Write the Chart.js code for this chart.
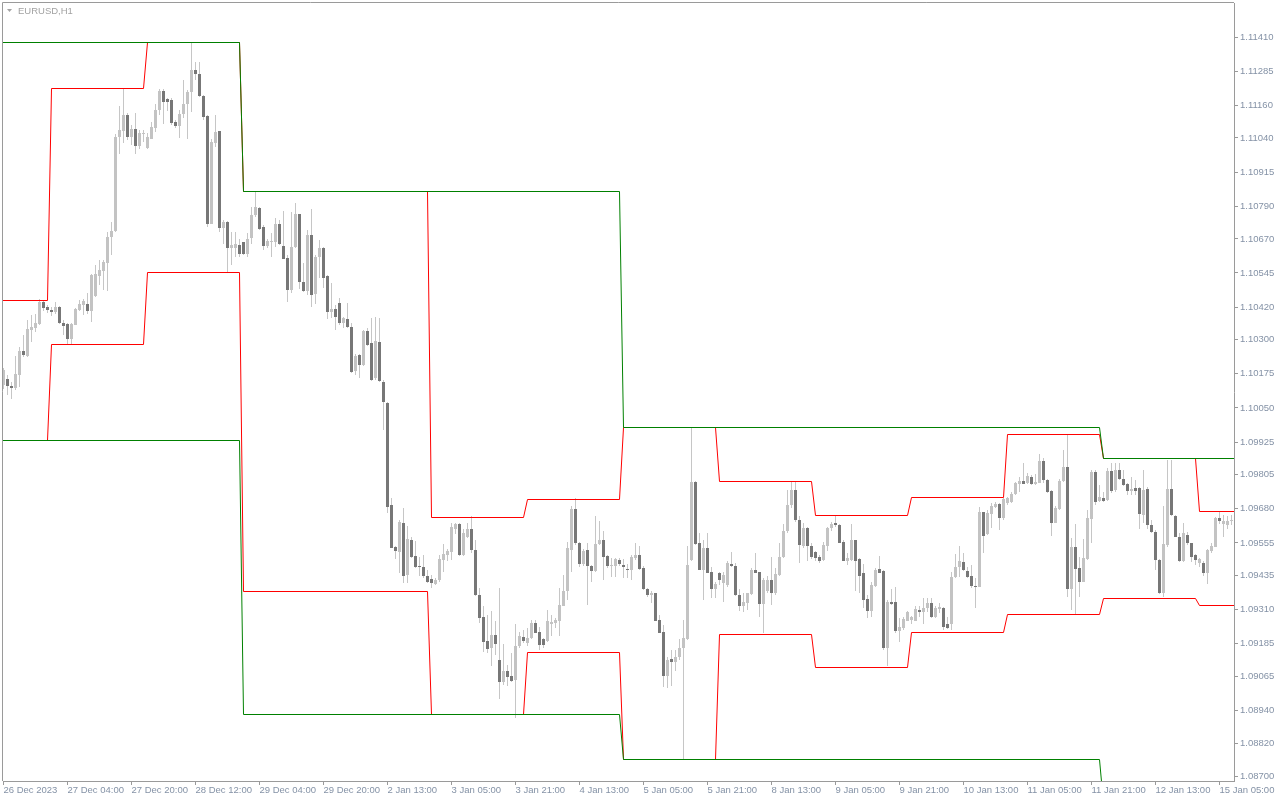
<!DOCTYPE html>
<html>
<head>
<meta charset="utf-8">
<script src="https://cdn.jsdelivr.net/npm/chart.js@4.4.1/dist/chart.umd.min.js"></script>
<style>
  html, body { margin: 0; padding: 0; background: #fff; }
  #wrap { width: 1280px; height: 800px; }
</style>
</head>
<body>
<div id="wrap"><canvas id="chart" width="1280" height="800"></canvas></div>
<script>
// EURUSD H1 candles, bar 0 = 26 Dec 2023
const opens = [
  1.10134,1.10156,1.10131,1.10125,1.10170,1.10258,1.10241,1.10337,1.10344,1.10358,
  1.10439,1.10420,1.10410,1.10403,1.10420,1.10361,1.10358,1.10302,1.10356,1.10410,
  1.10427,1.10432,1.10405,1.10461,1.10535,1.10552,1.10582,1.10678,1.10698,1.11043,
  1.11066,1.11124,1.11044,1.11072,1.11011,1.11055,1.11004,1.11038,1.11075,1.11141,
  1.11212,1.11182,1.11179,1.11097,1.11085,1.11129,1.11163,1.11207,1.11289,1.11273,
  1.11195,1.11120,1.10725,1.11021,1.11064,1.10711,1.10733,1.10635,1.10637,1.10649,
  1.10657,1.10616,1.10674,1.10757,1.10784,1.10714,1.10645,1.10657,1.10659,1.10726,
  1.10645,1.10601,1.10482,1.10641,1.10761,1.10513,1.10480,1.10684,1.10467,1.10602,
  1.10638,1.10535,1.10403,1.10412,1.10436,1.10363,1.10375,1.10348,1.10186,1.10244,
  1.10208,1.10332,1.10287,1.10159,1.10291,1.10147,1.10067,1.09694,1.09539,1.09523,
  1.09629,1.09438,1.09565,1.09507,1.09471,1.09466,1.09434,1.09422,1.09405,1.09419,
  1.09493,1.09511,1.09523,1.09605,1.09626,1.09511,1.09578,1.09605,1.09529,1.09364,
  1.09284,1.09196,1.09169,1.09218,1.09126,1.09046,1.09086,1.09067,1.09053,1.09178,
  1.09209,1.09187,1.09208,1.09263,1.09230,1.09202,1.09197,1.09258,1.09263,1.09267,
  1.09325,1.09377,1.09529,1.09678,1.09556,1.09477,1.09528,1.09471,1.09452,1.09550,
  1.09565,1.09507,1.09471,1.09472,1.09493,1.09473,1.09461,1.09456,1.09500,1.09511,
  1.09462,1.09386,1.09364,1.09370,1.09273,1.09229,1.09067,1.09131,1.09119,1.09136,
  1.09169,1.09203,1.09493,1.09780,1.09556,1.09454,1.09538,1.09450,1.09386,1.09444,
  1.09407,1.09401,1.09478,1.09472,1.09364,1.09324,1.09336,1.09368,1.09456,1.09449,
  1.09330,1.09377,1.09419,1.09370,1.09438,1.09502,1.09597,1.09694,1.09749,1.09639,
  1.09544,1.09608,1.09542,1.09520,1.09505,1.09493,1.09545,1.09608,1.09627,1.09621,
  1.09557,1.09490,1.09493,1.09564,1.09495,1.09444,1.09350,1.09306,1.09397,1.09460,
  1.09452,1.09168,1.09339,1.09339,1.09233,1.09242,1.09270,1.09273,1.09270,1.09309,
  1.09300,1.09315,1.09336,1.09282,1.09314,1.09316,1.09256,1.09256,1.09429,1.09465,
  1.09486,1.09453,1.09435,1.09397,1.09395,1.09667,1.09588,1.09661,1.09688,1.09698,
  1.09645,1.09700,1.09706,1.09734,1.09771,1.09783,1.09773,1.09798,1.09771,1.09776,
  1.09857,1.09786,1.09745,1.09629,1.09679,1.09783,1.09834,1.09387,1.09539,1.09462,
  1.09413,1.09495,1.09641,1.09816,1.09709,1.09721,1.09712,1.09820,1.09749,1.09822,
  1.09789,1.09770,1.09747,1.09755,1.09755,1.09657,1.09751,1.09621,1.09596,1.09492,
  1.09370,1.09547,1.09751,1.09654,1.09578,1.09489,1.09584,1.09553,1.09509,1.09480,
  1.09483,1.09446,1.09527,1.09541,1.09645,1.09623,1.09621,1.09634
];
const highs = [
  1.10195,1.10170,1.10146,1.10240,1.10274,1.10317,1.10372,1.10390,1.10393,1.10451,
  1.10445,1.10429,1.10421,1.10439,1.10423,1.10372,1.10363,1.10363,1.10417,1.10445,
  1.10451,1.10470,1.10542,1.10574,1.10591,1.10591,1.10696,1.10733,1.11053,1.11158,
  1.11219,1.11133,1.11089,1.11133,1.11069,1.11069,1.11060,1.11097,1.11163,1.11219,
  1.11221,1.11187,1.11185,1.11105,1.11142,1.11252,1.11215,1.11390,1.11319,1.11319,
  1.11197,1.11124,1.11036,1.11126,1.11067,1.10739,1.10735,1.10696,1.10696,1.10669,
  1.10659,1.10690,1.10788,1.10843,1.10788,1.10720,1.10669,1.10690,1.10747,1.10739,
  1.10772,1.10610,1.10769,1.10800,1.10763,1.10580,1.10703,1.10780,1.10611,1.10666,
  1.10642,1.10538,1.10507,1.10428,1.10452,1.10385,1.10434,1.10360,1.10247,1.10247,
  1.10336,1.10345,1.10379,1.10385,1.10379,1.10153,1.10073,1.09719,1.09545,1.09639,
  1.09682,1.09617,1.09578,1.09562,1.09505,1.09511,1.09456,1.09438,1.09428,1.09511,
  1.09550,1.09533,1.09627,1.09627,1.09629,1.09605,1.09627,1.09652,1.09566,1.09391,
  1.09325,1.09289,1.09306,1.09269,1.09389,1.09183,1.09108,1.09150,1.09257,1.09227,
  1.09236,1.09242,1.09273,1.09273,1.09245,1.09208,1.09309,1.09289,1.09279,1.09389,
  1.09438,1.09560,1.09692,1.09719,1.09560,1.09533,1.09554,1.09474,1.09652,1.09636,
  1.09599,1.09511,1.09499,1.09501,1.09499,1.09495,1.09478,1.09511,1.09554,1.09542,
  1.09472,1.09389,1.09377,1.09373,1.09291,1.09254,1.09136,1.09163,1.09163,1.09202,
  1.09273,1.09544,1.09979,1.09782,1.09590,1.09566,1.09593,1.09468,1.09413,1.09447,
  1.09450,1.09489,1.09523,1.09480,1.09385,1.09370,1.09373,1.09462,1.09517,1.09450,
  1.09425,1.09432,1.09505,1.09462,1.09554,1.09625,1.09749,1.09780,1.09780,1.09652,
  1.09627,1.09612,1.09554,1.09526,1.09511,1.09560,1.09615,1.09633,1.09654,1.09625,
  1.09566,1.09517,1.09625,1.09566,1.09501,1.09478,1.09364,1.09410,1.09462,1.09507,
  1.09454,1.09346,1.09385,1.09395,1.09279,1.09285,1.09306,1.09287,1.09322,1.09322,
  1.09352,1.09352,1.09352,1.09324,1.09336,1.09319,1.09285,1.09450,1.09514,1.09544,
  1.09517,1.09468,1.09474,1.09425,1.09685,1.09670,1.09676,1.09700,1.09706,1.09703,
  1.09721,1.09725,1.09743,1.09780,1.09798,1.09847,1.09813,1.09804,1.09808,1.09881,
  1.09865,1.09789,1.09749,1.09690,1.09788,1.09896,1.09954,1.09572,1.09624,1.09505,
  1.09568,1.09676,1.09822,1.09822,1.09767,1.09743,1.09828,1.09847,1.09847,1.09847,
  1.09822,1.09773,1.09798,1.09786,1.09761,1.09822,1.09759,1.09639,1.09602,1.09495,
  1.09690,1.09859,1.09859,1.09657,1.09590,1.09627,1.09596,1.09556,1.09514,1.09501,
  1.09489,1.09531,1.09553,1.09651,1.09670,1.09657,1.09654,1.09657
];
const lows = [
  1.10119,1.10099,1.10082,1.10115,1.10128,1.10238,1.10238,1.10293,1.10329,1.10356,
  1.10405,1.10399,1.10388,1.10396,1.10358,1.10317,1.10286,1.10283,1.10354,1.10405,
  1.10390,1.10393,1.10366,1.10458,1.10500,1.10482,1.10478,1.10610,1.10696,1.10983,
  1.11020,1.11032,1.11014,1.10983,1.10999,1.11026,1.10999,1.11036,1.11062,1.11124,
  1.11093,1.11138,1.11089,1.11077,1.11041,1.11114,1.11036,1.11136,1.11252,1.11191,
  1.11105,1.10714,1.10723,1.11008,1.10696,1.10653,1.10549,1.10574,1.10604,1.10604,
  1.10610,1.10604,1.10653,1.10751,1.10702,1.10629,1.10635,1.10604,1.10641,1.10649,
  1.10596,1.10439,1.10473,1.10635,1.10488,1.10476,1.10464,1.10422,1.10430,1.10525,
  1.10489,1.10376,1.10381,1.10336,1.10354,1.10342,1.10345,1.10177,1.10171,1.10159,
  1.10205,1.10279,1.10149,1.10153,1.10147,1.09969,1.09664,1.09535,1.09496,1.09444,
  1.09407,1.09407,1.09499,1.09462,1.09434,1.09425,1.09407,1.09391,1.09401,1.09411,
  1.09450,1.09487,1.09493,1.09589,1.09508,1.09508,1.09572,1.09517,1.09362,1.09260,
  1.09156,1.09150,1.09105,1.09144,1.08983,1.09034,1.09032,1.09046,1.08914,1.09169,
  1.09187,1.09178,1.09202,1.09224,1.09163,1.09169,1.09193,1.09212,1.09242,1.09212,
  1.09322,1.09346,1.09450,1.09548,1.09468,1.09472,1.09328,1.09413,1.09450,1.09548,
  1.09419,1.09462,1.09431,1.09431,1.09472,1.09425,1.09425,1.09419,1.09493,1.09456,
  1.09383,1.09356,1.09336,1.09267,1.09224,1.09025,1.09022,1.09031,1.09087,1.09124,
  1.08762,1.09199,1.09490,1.09548,1.09454,1.09346,1.09444,1.09352,1.09352,1.09401,
  1.09340,1.09395,1.09468,1.09361,1.09307,1.09300,1.09309,1.09364,1.09444,1.09285,
  1.09224,1.09370,1.09328,1.09364,1.09434,1.09499,1.09593,1.09682,1.09633,1.09483,
  1.09535,1.09487,1.09495,1.09487,1.09483,1.09487,1.09527,1.09600,1.09615,1.09554,
  1.09487,1.09474,1.09490,1.09380,1.09370,1.09315,1.09278,1.09282,1.09395,1.09444,
  1.09163,1.09102,1.09328,1.09224,1.09193,1.09236,1.09267,1.09258,1.09267,1.09285,
  1.09258,1.09303,1.09278,1.09278,1.09297,1.09236,1.09238,1.09236,1.09425,1.09431,
  1.09453,1.09425,1.09388,1.09315,1.09392,1.09517,1.09584,1.09608,1.09682,1.09602,
  1.09639,1.09694,1.09703,1.09731,1.09743,1.09770,1.09770,1.09767,1.09767,1.09773,
  1.09773,1.09739,1.09580,1.09627,1.09676,1.09780,1.09358,1.09309,1.09294,1.09358,
  1.09410,1.09492,1.09553,1.09694,1.09706,1.09706,1.09710,1.09737,1.09743,1.09786,
  1.09764,1.09731,1.09731,1.09731,1.09605,1.09627,1.09605,1.09590,1.09456,1.09368,
  1.09358,1.09541,1.09654,1.09575,1.09484,1.09486,1.09547,1.09486,1.09474,1.09465,
  1.09434,1.09403,1.09517,1.09539,1.09624,1.09578,1.09605,1.09621
];
const closes = [
  1.10189,1.10131,1.10124,1.10173,1.10258,1.10244,1.10339,1.10346,1.10361,1.10439,
  1.10417,1.10410,1.10403,1.10420,1.10363,1.10351,1.10302,1.10358,1.10412,1.10432,
  1.10443,1.10405,1.10539,1.10542,1.10555,1.10586,1.10678,1.10698,1.11043,1.11069,
  1.11124,1.11044,1.11072,1.11009,1.11060,1.11060,1.11043,1.11080,1.11141,1.11212,
  1.11173,1.11173,1.11094,1.11085,1.11129,1.11163,1.11207,1.11289,1.11273,1.11195,
  1.11118,1.10725,1.11025,1.11061,1.10711,1.10733,1.10635,1.10649,1.10652,1.10615,
  1.10615,1.10671,1.10759,1.10786,1.10708,1.10645,1.10662,1.10662,1.10726,1.10653,
  1.10598,1.10482,1.10641,1.10761,1.10513,1.10478,1.10684,1.10464,1.10605,1.10638,
  1.10525,1.10403,1.10412,1.10382,1.10363,1.10379,1.10348,1.10183,1.10242,1.10208,
  1.10332,1.10281,1.10153,1.10297,1.10149,1.10073,1.09688,1.09538,1.09526,1.09633,
  1.09434,1.09568,1.09505,1.09468,1.09465,1.09434,1.09413,1.09407,1.09419,1.09496,
  1.09515,1.09526,1.09612,1.09623,1.09511,1.09590,1.09605,1.09529,1.09364,1.09281,
  1.09193,1.09166,1.09218,1.09183,1.09044,1.09086,1.09065,1.09050,1.09177,1.09214,
  1.09196,1.09205,1.09263,1.09226,1.09181,1.09181,1.09267,1.09264,1.09273,1.09328,
  1.09377,1.09535,1.09678,1.09554,1.09477,1.09526,1.09472,1.09452,1.09550,1.09565,
  1.09505,1.09471,1.09474,1.09495,1.09478,1.09467,1.09457,1.09505,1.09512,1.09460,
  1.09386,1.09364,1.09373,1.09270,1.09226,1.09067,1.09126,1.09119,1.09136,1.09169,
  1.09205,1.09474,1.09780,1.09551,1.09456,1.09538,1.09446,1.09386,1.09405,1.09419,
  1.09438,1.09483,1.09471,1.09364,1.09324,1.09339,1.09370,1.09454,1.09446,1.09331,
  1.09419,1.09419,1.09370,1.09441,1.09505,1.09599,1.09694,1.09749,1.09639,1.09548,
  1.09608,1.09542,1.09502,1.09501,1.09489,1.09548,1.09609,1.09625,1.09621,1.09556,
  1.09490,1.09499,1.09564,1.09490,1.09434,1.09346,1.09306,1.09401,1.09456,1.09446,
  1.09169,1.09340,1.09331,1.09233,1.09246,1.09275,1.09301,1.09285,1.09312,1.09300,
  1.09315,1.09336,1.09285,1.09318,1.09319,1.09245,1.09244,1.09431,1.09468,1.09490,
  1.09456,1.09431,1.09398,1.09395,1.09667,1.09582,1.09663,1.09690,1.09698,1.09645,
  1.09716,1.09718,1.09733,1.09773,1.09782,1.09772,1.09802,1.09771,1.09777,1.09855,
  1.09786,1.09743,1.09629,1.09684,1.09783,1.09834,1.09387,1.09539,1.09458,1.09413,
  1.09498,1.09645,1.09816,1.09706,1.09725,1.09709,1.09820,1.09747,1.09822,1.09788,
  1.09767,1.09747,1.09751,1.09747,1.09660,1.09749,1.09621,1.09594,1.09492,1.09370,
  1.09550,1.09751,1.09657,1.09578,1.09489,1.09590,1.09553,1.09505,1.09492,1.09495,
  1.09446,1.09529,1.09544,1.09645,1.09637,1.09637,1.09637,1.09638
];

// time axis: a label every 16 bars
const timeTickBars = [0,16,32,48,64,80,96,112,128,144,160,176,192,208,224,240,256,272,288,304];
const timeTickText = ['26 Dec 2023','27 Dec 04:00','27 Dec 20:00','28 Dec 12:00','29 Dec 04:00',
  '29 Dec 20:00','2 Jan 13:00','3 Jan 05:00','3 Jan 21:00','4 Jan 13:00','5 Jan 05:00',
  '5 Jan 21:00','8 Jan 13:00','9 Jan 05:00','9 Jan 21:00','10 Jan 13:00','11 Jan 05:00',
  '11 Jan 21:00','12 Jan 13:00','15 Jan 05:00'];

// price axis labels
const priceTicks = [1.11410,1.11285,1.11160,1.11040,1.10915,1.10790,1.10670,1.10545,1.10420,
  1.10300,1.10175,1.10050,1.09925,1.09805,1.09680,1.09555,1.09435,1.09310,1.09185,1.09065,
  1.08940,1.08820,1.08700];

// red levels: first bar of each day, upper and lower level
const dayStart = [0,12,36,60,107,131,155,179,203,227,251,275,299];
const dayUpper = [1.10444,1.11223,1.11391,1.10842,1.09650,1.09716,1.09980,1.09782,1.09654,1.09723,1.09954,1.09863,1.09672];
const dayLower = [1.09932,1.10281,1.10548,1.09378,1.08927,1.09155,1.08762,1.09221,1.09100,1.09225,1.09294,1.09353,1.09327];

// green levels: first bar of each period
const weekStart = [0,60,155,275];
const weekUpper = [1.11391,1.10842,1.09980,1.09863];
const weekLower = [1.09932,1.08927,1.08762,1.08600];

const X_MIN = -0.125, X_MAX = 307.625;
const Y_MIN = 1.08682, Y_MAX = 1.11535;

const bullColor = '#c3c3c3';
const bearColor = '#777777';
const wickColor = '#c6c6c6';
const axisColor = '#9a9a9a';
const labelColor = '#8492a6';
const font = { family: '"Liberation Sans", Arial, sans-serif', size: 9.5 };

// each level holds until the next start bar, then steps to the new one
function stepLine(starts, levels) {
  const pts = [];
  for (let k = 0; k < levels.length; k++) {
    const from = k === 0 ? X_MIN - 1 : starts[k];
    const to = k + 1 < starts.length ? starts[k + 1] - 1 : X_MAX + 1;
    pts.push({ x: from, y: levels[k] }, { x: to, y: levels[k] });
  }
  return pts;
}

const bodies = opens.map((o, i) => ({ x: i, y: [o, closes[i]] }));
const wicks = lows.map((l, i) => ({ x: i, y: [l, highs[i]] }));
const bodyColors = opens.map((o, i) => closes[i] >= o ? bullColor : bearColor);

const lineStyle = { type: 'line', borderWidth: 1, pointRadius: 0, fill: false, tension: 0 };

// keep 1px lines and bar edges on whole pixels, like the terminal does
const pixelSnap = {
  id: 'pixelSnap',
  afterDatasetsUpdate(chart) {
    chart.getSortedVisibleDatasetMetas().forEach(meta => {
      if (meta.type === 'line') {
        meta.data.forEach(p => { p.y = Math.floor(p.y) + 0.5; });
      } else {
        meta.data.forEach(b => {
          const top = Math.round(Math.min(b.y, b.base));
          let bottom = Math.round(Math.max(b.y, b.base));
          if (bottom - top < 1) bottom = top + 1;
          b.y = top;
          b.base = bottom;
        });
      }
    });
  }
};

const frame = {
  id: 'frame',
  afterDraw(chart) {
    const { ctx, chartArea: a } = chart;
    ctx.save();
    ctx.strokeStyle = axisColor;
    ctx.lineWidth = 1;
    ctx.beginPath();
    ctx.moveTo(a.left - 0.5, a.bottom);
    ctx.lineTo(a.left - 0.5, a.top - 0.5);
    ctx.lineTo(a.right, a.top - 0.5);
    ctx.stroke();
    // symbol caption
    ctx.fillStyle = '#a2a2a2';
    ctx.beginPath();
    ctx.moveTo(7, 9);
    ctx.lineTo(12, 9);
    ctx.lineTo(9.5, 12);
    ctx.closePath();
    ctx.fill();
    ctx.font = '9.5px "Liberation Sans", Arial, sans-serif';
    ctx.textBaseline = 'middle';
    ctx.fillText('EURUSD,H1', 18, 11);
    ctx.restore();
  }
};

new Chart(document.getElementById('chart'), {
  type: 'bar',
  data: {
    datasets: [
      { ...lineStyle, data: stepLine(weekStart, weekUpper), borderColor: '#008000', order: 0 },
      { ...lineStyle, data: stepLine(weekStart, weekLower), borderColor: '#008000', order: 0 },
      { ...lineStyle, data: stepLine(dayStart, dayUpper), borderColor: '#ff0000', order: 1 },
      { ...lineStyle, data: stepLine(dayStart, dayLower), borderColor: '#ff0000', order: 1 },
      { data: bodies, backgroundColor: bodyColors, barThickness: 3, grouped: false,
        minBarLength: 1, inflateAmount: 0, borderWidth: 0, order: 2 },
      { data: wicks, backgroundColor: wickColor, barThickness: 1, grouped: false,
        minBarLength: 1, inflateAmount: 0, borderWidth: 0, order: 3 }
    ]
  },
  options: {
    responsive: false,
    devicePixelRatio: 1,
    animation: false,
    events: [],
    layout: { padding: { left: 3, top: 3, right: 0, bottom: 0 } },
    plugins: { legend: { display: false }, tooltip: { enabled: false } },
    scales: {
      x: {
        type: 'linear',
        min: X_MIN,
        max: X_MAX,
        offset: false,
        grid: { drawOnChartArea: false, drawTicks: true, tickLength: 4, color: axisColor, offset: false },
        border: { display: true, color: axisColor },
        ticks: {
          align: 'start', maxRotation: 0, minRotation: 0, autoSkip: false, padding: 0,
          color: labelColor, font,
          callback: (v, i) => timeTickText[i]
        },
        afterBuildTicks: axis => { axis.ticks = timeTickBars.map(v => ({ value: v })); },
        afterFit: axis => {
          axis.height = 19;
          axis.paddingLeft = 0; axis.paddingRight = 0;
        }
      },
      y: {
        position: 'right',
        min: Y_MIN,
        max: Y_MAX,
        grid: { drawOnChartArea: false, drawTicks: true, tickLength: 4, color: axisColor },
        border: { display: true, color: axisColor },
        ticks: { padding: 2, color: labelColor, font, callback: v => v.toFixed(5) },
        afterBuildTicks: axis => { axis.ticks = priceTicks.map(v => ({ value: v })); },
        afterFit: axis => {
          axis.width = 46;
          axis.paddingTop = 0; axis.paddingBottom = 0;
        }
      }
    }
  },
  plugins: [pixelSnap, frame]
});
</script>
</body>
</html>
